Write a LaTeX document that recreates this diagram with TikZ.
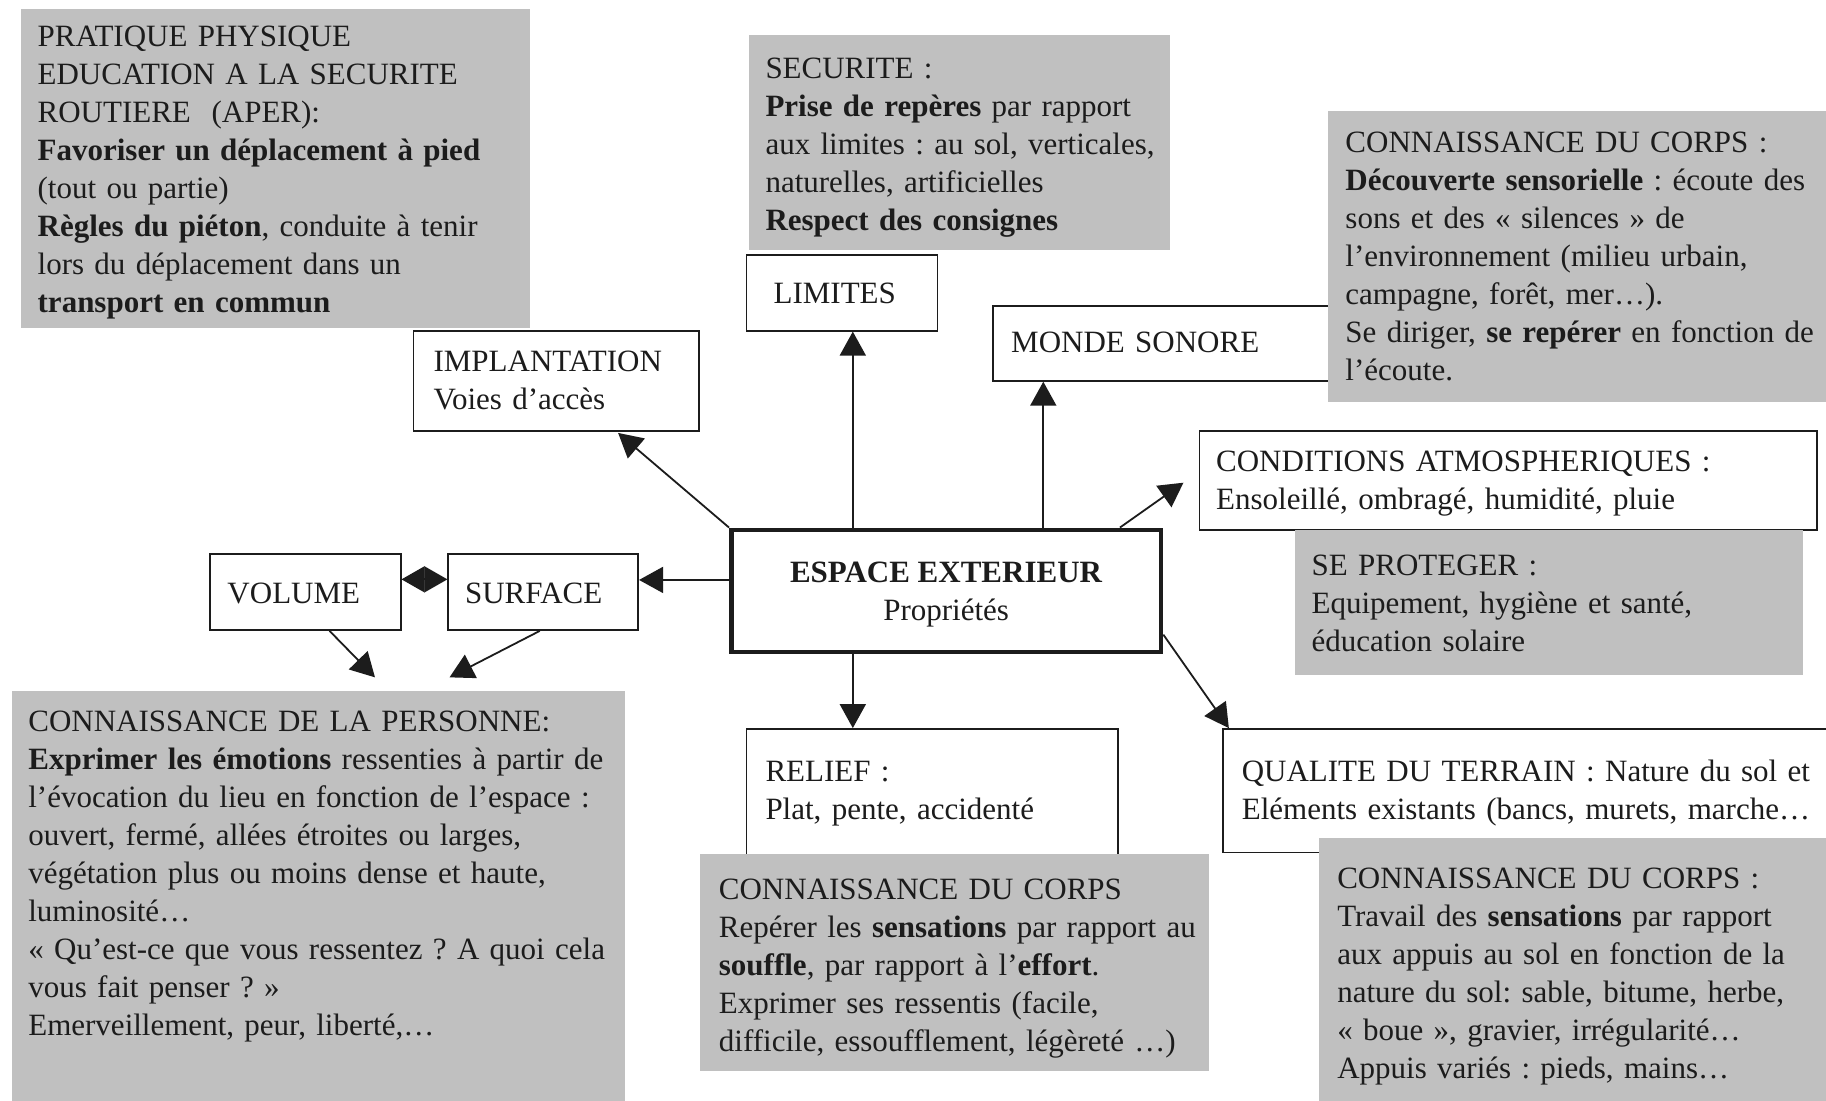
\documentclass[tikz,border=0pt]{standalone}
\usepackage{fontspec}
\setmainfont{Liberation Serif}
\usetikzlibrary{arrows.meta,fit,calc}
\definecolor{boxgray}{RGB}{192,192,192}
\definecolor{ink}{RGB}{28,28,28}
\frenchspacing
\begin{document}
\begin{tikzpicture}[x=0.58227pt,y=-0.58227pt,
  wbox/.style={draw=ink, line width=0.9pt, fill=white, inner sep=0pt},
  cbox/.style={draw=ink, line width=2.3pt, fill=white, inner sep=0pt},
  gbox/.style={fill=boxgray, draw=none, inner sep=0pt},
  txt/.style={inner sep=0pt, anchor=base west, text width=420pt, align=left,
    font=\fontsize{15.5}{19}\selectfont\frenchspacing, text=ink},
  ctxt/.style={inner sep=0pt, align=center, font=\fontsize{15.5}{19}\selectfont\frenchspacing, text=ink},
  arr/.style={draw=ink, line width=0.9pt, -{Triangle[length=12pt,width=13pt]}},
  darr/.style={draw=ink, line width=0.9pt, {Triangle[length=11.6pt,width=13pt]}-{Triangle[length=11.6pt,width=13pt]}},
]
\fill[white] (0,0) rectangle (1568,945);
\path[use as bounding box] (0,0) rectangle (1568,945);

% white boxes
\node[wbox, fit={(355,284) (600,370)}] (impl) {};
\node[wbox, fit={(641,219) (805,284)}] (lim) {};
\node[wbox, fit={(853,263) (1150,327)}] (monde) {};
\node[wbox, fit={(1030,370) (1560,455)}] (cond) {};
\node[cbox, fit={(628,455) (997,560)}] (esp) {};
\node[wbox, fit={(180,476) (344,541)}] (vol) {};
\node[wbox, fit={(385,476) (548,541)}] (sur) {};
\node[wbox, fit={(641,626) (960,745)}] (rel) {};
\node[wbox, fit={(1050,626) (1575,732)}] (qual) {};

% grey boxes
\node[gbox, fit={(18,8) (455,282)}] (aper) {};
\node[gbox, fit={(643,30) (1005,215)}] (secu) {};
\node[gbox, fit={(1140,95) (1575,345)}] (corpsA) {};
\node[gbox, fit={(1112,455) (1548,580)}] (prot) {};
\node[gbox, fit={(10,593) (537,950)}] (pers) {};
\node[gbox, fit={(601,733) (1038,920)}] (corpsB) {};
\node[gbox, fit={(1133,720) (1575,950)}] (corpsC) {};

% texts
\node[txt] (taper) at (32,40) {PRATIQUE PHYSIQUE\\
EDUCATION A LA SECURITE\\
ROUTIERE~~(APER):\\
\textbf{Favoriser un déplacement à pied}\\
(tout ou partie)\\
\textbf{Règles du piéton}, conduite à tenir\\
lors du déplacement dans un\\
\textbf{transport en commun}};

\node[txt] (tsecu) at (657,67) {SECURITE :\\
\textbf{Prise de repères} par rapport\\
aux limites : au sol, verticales,\\
naturelles, artificielles\\
\textbf{Respect des consignes}};

\node[txt] (tlim) at (664,261) {LIMITES};
\node[txt] (timpl) at (372,319) {IMPLANTATION\\Voies d’accès};
\node[txt] (tmonde) at (868,303) {MONDE SONORE};

\node[txt] (tcorpsA) at (1155,131) {CONNAISSANCE DU CORPS :\\
\textbf{Découverte sensorielle} : écoute des\\
sons et des «~silences~» de\\
l’environnement (milieu urbain,\\
campagne, forêt, mer…).\\
Se diriger, \textbf{se repérer} en fonction de\\
l’écoute.};

\node[txt] (tcond) at (1044,405) {CONDITIONS ATMOSPHERIQUES :\\
Ensoleillé, ombragé, humidité, pluie};

\node[txt] (tprot) at (1126,494) {SE PROTEGER :\\
Equipement, hygiène et santé,\\
éducation solaire};

\node[ctxt] (tesp) at ([shift={(0,3)}]esp.center) {\textbf{ESPACE EXTERIEUR}\\Propriétés};

\node[txt] (tvol) at (195,518) {VOLUME};
\node[txt] (tsur) at (399,518) {SURFACE};

\node[txt] (tpers) at (24,628) {CONNAISSANCE DE LA PERSONNE:\\
\textbf{Exprimer les émotions} ressenties à partir de\\
l’évocation du lieu en fonction de l’espace :\\
ouvert, fermé, allées étroites ou larges,\\
végétation plus ou moins dense et haute,\\
luminosité…\\
«~Qu’est-ce que vous ressentez ? A quoi cela\\
vous fait penser ?~»\\
Emerveillement, peur, liberté,…};

\node[txt] (trel) at (657,671) {RELIEF :\\Plat, pente, accidenté};

\node[txt] (tcorpsB) at (617,772) {CONNAISSANCE DU CORPS\\
Repérer les \textbf{sensations} par rapport au\\
\textbf{souffle}, par rapport à l’\textbf{effort}.\\
Exprimer ses ressentis (facile,\\
difficile, essoufflement, légèreté …)};

\node[txt] (tqual) at (1066,671) {QUALITE DU TERRAIN : Nature du sol et\\
Eléments existants (bancs, murets, marche…};

\node[txt] (tcorpsC) at (1148,763) {CONNAISSANCE DU CORPS :\\
Travail des \textbf{sensations} par rapport\\
aux appuis au sol en fonction de la\\
nature du sol: sable, bitume, herbe,\\
«~boue~», gravier, irrégularité…\\
Appuis variés : pieds, mains…};

% connectors
\draw[arr] (esp.north west) -- ([shift={(-70,1)}]impl.south east);
\draw[arr] ($(esp.north west)!0.285!(esp.north east)$) coordinate (c2) -- (c2 |- lim.south);
\draw[arr] ($(esp.north west)!0.7236!(esp.north east)$) coordinate (c3) -- (c3 |- monde.south);
\draw[arr] ($(esp.north west)!0.9!(esp.north east)$) -- ([shift={(-13,2)}]cond.west);
\draw[arr] ([shift={(0,-9.5)}]esp.west) coordinate (c5) -- (c5 -| sur.east);
\draw[darr] ([shift={(0,-11)}]vol.east) -- ([shift={(0,-11)}]sur.west);
\draw[arr] ([shift={(21,0)}]vol.south) -- ([shift={(48.5,-11)}]pers.north);
\draw[arr] ([shift={(-3,0)}]sur.south) -- ([shift={(112.5,-11)}]pers.north);
\draw[arr] ($(esp.south west)!0.285!(esp.south east)$) coordinate (c9) -- (c9 |- rel.north);
\draw[arr] ([shift={(0,-17)}]esp.south east) -- ([shift={(6,0)}]qual.north west);
\end{tikzpicture}
\end{document}
